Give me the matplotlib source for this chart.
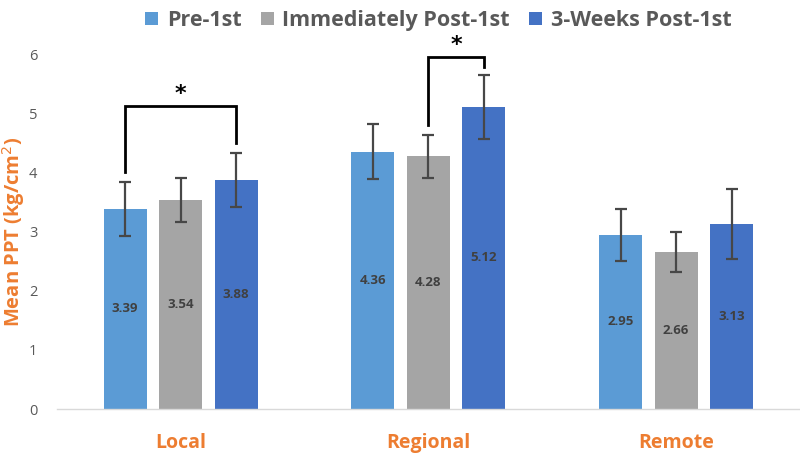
import matplotlib
matplotlib.use("Agg")
import matplotlib.pyplot as plt
import numpy as np

plt.rcParams['font.family'] = ['Open Sans', 'DejaVu Sans']

categories = ["Local", "Regional", "Remote"]
series_names = ["Pre-1st", "Immediately Post-1st", "3-Weeks Post-1st"]
pre = [3.39, 4.36, 2.95]
imm = [3.54, 4.28, 2.66]
wk3 = [3.88, 5.12, 3.13]
pre_err = [0.46, 0.47, 0.44]
imm_err = [0.37, 0.36, 0.34]
wk3_err = [0.46, 0.54, 0.59]
yticks = [0, 1, 2, 3, 4, 5, 6]

colors = ["#5B9BD5", "#A5A5A5", "#4472C4"]
orange = "#ED7D31"

fig = plt.figure(figsize=(8, 4.57), dpi=100)
ax = fig.add_axes([0.071, 0.105, 0.929, 0.775])

x = np.arange(len(categories))
width = 0.174
spacing = 0.224
series = [pre, imm, wk3]
errs = [pre_err, imm_err, wk3_err]
for i, (vals, err, c, name) in enumerate(zip(series, errs, colors, series_names)):
    pos = x + (i - 1) * spacing
    ax.bar(pos, vals, width, color=c, label=name, zorder=2)
    ax.errorbar(pos, vals, yerr=err, fmt='none', ecolor='#474747',
                elinewidth=1.6, capsize=4, capthick=1.6, zorder=3)
    for p, v in zip(pos, vals):
        ax.text(p, v / 2, f"{v:.2f}", ha='center', va='center',
                fontsize=9.5, fontweight='bold', color='#404040', zorder=4)

# significance brackets
def bracket(x1, x2, y1, y2, top):
    ax.plot([x1, x1, x2, x2], [y1, top, top, y2], color='black', lw=2,
            clip_on=False, zorder=5, solid_joinstyle='miter')
    ax.text((x1 + x2) / 2, top + 0.2, "*", ha='center', va='center',
            fontsize=16, fontweight='bold', color='black', family='DejaVu Sans')

bracket(x[0] - spacing, x[0] + spacing, 4.02, 4.50, 5.14)
bracket(x[1], x[1] + spacing, 4.81, 5.80, 5.97)

ax.set_xlim(-0.5, 2.5)
ax.set_ylim(0, 6)
ax.set_yticks(yticks)
ax.set_xticks(x)
ax.set_xticklabels(categories, fontsize=14, fontweight='bold', color=orange)
ax.tick_params(axis='x', length=0, pad=17)
ax.tick_params(axis='y', length=0, labelsize=10.5, labelcolor='#595959', pad=14)
for s in ['top', 'right', 'left']:
    ax.spines[s].set_visible(False)
ax.spines['bottom'].set_color('#D9D9D9')
ax.spines['bottom'].set_linewidth(1)

ax.set_ylabel("Mean PPT (kg/cm$^{2}$)", fontsize=14.5, fontweight='bold',
              color=orange)
ax.yaxis.set_label_coords(-0.040, 0.50)

leg = fig.legend(loc='upper center', bbox_to_anchor=(0.548, 1.02), ncol=3,
                 frameon=False, handlelength=0.6, handleheight=0.6,
                 handletextpad=0.4, columnspacing=0.9,
                 prop={'weight': 'bold', 'size': 15.5})
for t in leg.get_texts():
    t.set_color('#595959')

fig.savefig("out.png", dpi=100)
